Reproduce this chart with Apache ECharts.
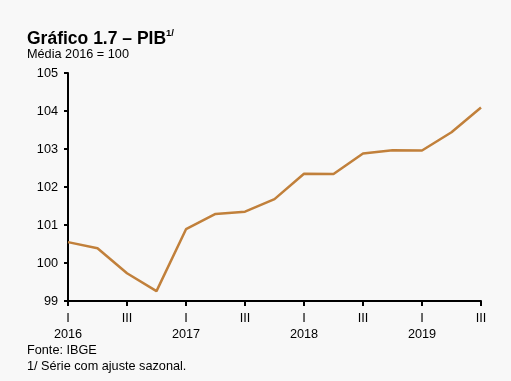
<!DOCTYPE html>
<html><head><meta charset="utf-8">
<script src="https://cdn.jsdelivr.net/npm/echarts@6/dist/echarts.min.js"></script>
<style>html,body{margin:0;padding:0;background:#f8f8f8}#c{width:511px;height:381px}</style>
</head><body><div id="c"></div>
<script>
var categories = ['I\n2016','II','III','IV','I\n2017','II','III','IV','I\n2018','II','III','IV','I\n2019','II','III'];
var pib = [100.55,100.39,99.73,99.26,100.89,101.29,101.35,101.68,102.35,102.34,102.88,102.97,102.96,103.44,104.09];
var yTicks = {min:99, max:105, interval:1};
var titleText = 'Gráfico 1.7 – PIB';
var titleSup = '1/';
var subtitle = 'Média 2016 = 100';
var source = 'Fonte: IBGE';
var note = '1/ Série com ajuste sazonal.';

var chart = echarts.init(document.getElementById('c'), null, {renderer:'canvas'});
var ff = 'Liberation Sans, Arial, sans-serif';
var fs = 12.7;
chart.setOption({
  backgroundColor: '#f8f8f8',
  animation: false,
  title: [{
    text: '{a|' + titleText + '}{s|' + titleSup + '}',
    left: 27, top: 28, padding: 0,
    textStyle: {
      rich: {
        a: {fontFamily: ff, fontSize: 17.5, fontWeight: 'bold', color: '#000', lineHeight: 20, verticalAlign:'bottom'},
        s: {fontFamily: ff, fontSize: 9.5, fontWeight: 'bold', color: '#000', lineHeight: 20, verticalAlign:'top', padding:[0,0,9,0]}
      }
    }
  },{
    text: subtitle, left: 27, top: 48, padding: 0,
    textStyle: {fontFamily: ff, fontSize: fs, fontWeight: 'normal', color: '#000'}
  },{
    text: source, left: 27, top: 344, padding: 0,
    textStyle: {fontFamily: ff, fontSize: fs, fontWeight: 'normal', color: '#000'}
  },{
    text: note, left: 27, top: 360, padding: 0,
    textStyle: {fontFamily: ff, fontSize: fs, fontWeight: 'normal', color: '#000'}
  }],
  grid: {left: 68, right: 30, top: 73, bottom: 80, containLabel: false},
  xAxis: {
    type: 'category', data: categories, boundaryGap: false,
    axisLine: {lineStyle: {color: '#000', width: 2}},
    axisTick: {show: true, interval: 1, length: 5, lineStyle: {color: '#000', width: 2}},
    axisLabel: {interval: 1, color: '#000', fontFamily: ff, fontSize: fs, margin: 9, lineHeight: 16},
    splitLine: {show: false}
  },
  yAxis: {
    type: 'value', min: yTicks.min, max: yTicks.max, interval: yTicks.interval,
    axisLine: {show: true, lineStyle: {color: '#000', width: 2}},
    axisTick: {show: true, length: 4, lineStyle: {color: '#000', width: 2}},
    axisLabel: {color: '#000', fontFamily: ff, fontSize: fs, margin: 10},
    splitLine: {show: false}
  },
  series: [{
    type: 'line', data: pib, symbol: 'none',
    lineStyle: {color: '#C1803B', width: 2.5}
  }]
});
</script></body></html>
